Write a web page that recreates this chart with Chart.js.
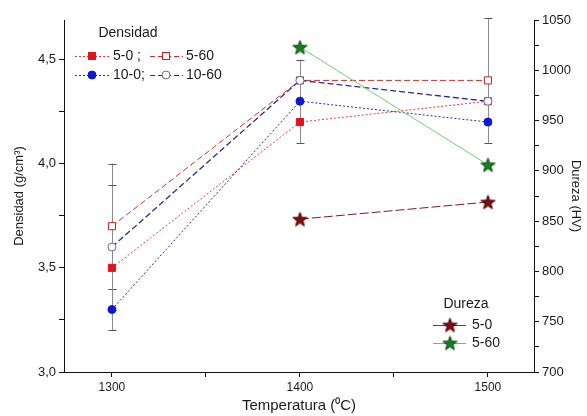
<!DOCTYPE html>
<html><head><meta charset="utf-8">
<script src="https://cdn.jsdelivr.net/npm/chart.js@4"></script>
<style>html,body{margin:0;padding:0;background:#fff}#wrap{width:587px;height:416px}</style>
</head><body><div id="wrap"><canvas id="c" width="587" height="416"></canvas></div>
<script>
// ---- data ----
const temperatures = [1300, 1400, 1500];
const dens_5_0 = [3.5, 4.2, 4.3];
const dens_5_60 = [3.7, 4.4, 4.4];
const dens_10_0 = [3.3, 4.3, 4.2];
const dens_10_60 = [3.6, 4.4, 4.3];
const err_5_0 = [0, 0.1, 0];
const err_5_60 = [0.3, 0.1, 0.3];
const err_10_0 = [0.1, 0, 0];
const err_10_60 = [0.3, 0, 0];
const durezaTemps = [1400, 1500];
const dur_5_0 = [852, 869];
const dur_5_60 = [1023, 906];
const xTicks = [1300, 1350, 1400, 1450, 1500];
const xLabels = [1300, 1400, 1500];
const yTicks = [3.0, 3.25, 3.5, 3.75, 4.0, 4.25, 4.5];
const yLabels = [3.0, 3.5, 4.0, 4.5];
const y2Ticks = [700, 725, 750, 775, 800, 825, 850, 875, 900, 925, 950, 975, 1000, 1025, 1050];
const y2Labels = [700, 750, 800, 850, 900, 950, 1000, 1050];

const FONT = "'Liberation Sans', Arial, sans-serif";
const TXT = '#1a1a1a';

function makeStar(fill, stroke, r) {
  const s = Math.ceil(r * 2 + 4);
  const cv = document.createElement('canvas');
  cv.width = s; cv.height = s;
  const g = cv.getContext('2d');
  const cx = s / 2, cy = s / 2 + 0.7;
  g.beginPath();
  for (let i = 0; i < 10; i++) {
    const rr = i % 2 === 0 ? r : r * 0.42;
    const a = -Math.PI / 2 + i * Math.PI / 5;
    const px = cx + rr * Math.cos(a), py = cy + rr * Math.sin(a);
    i === 0 ? g.moveTo(px, py) : g.lineTo(px, py);
  }
  g.closePath();
  g.fillStyle = fill; g.fill();
  g.lineWidth = 1; g.strokeStyle = stroke; g.stroke();
  return cv;
}
const starRed = makeStar('#7d0d12', '#4a0508', 7.5);
const starGreen = makeStar('#12801c', '#0a4a10', 7.5);

const pts = (xs, ys) => xs.map((x, i) => ({x: x, y: ys[i]}));

const datasets = [
  {label: '5-0', data: pts(temperatures, dens_5_0), yAxisID: 'y', err: err_5_0, order: 5,
   borderColor: '#e03a3a', borderWidth: 1, borderDash: [2, 2],
   pointStyle: 'rect', pointRadius: 5, backgroundColor: '#e8101a', pointBorderColor: '#e8101a', pointBorderWidth: 1},
  {label: '5-60', data: pts(temperatures, dens_5_60), yAxisID: 'y', err: err_5_60, order: 4,
   borderColor: '#c83030', borderWidth: 1, borderDash: [6, 3],
   pointStyle: 'rect', pointRadius: 5, backgroundColor: '#ffffff', pointBorderColor: '#c02020', pointBorderWidth: 1},
  {label: '10-0', data: pts(temperatures, dens_10_0), yAxisID: 'y', err: err_10_0, order: 3,
   borderColor: '#2a2aa8', borderWidth: 1, borderDash: [2, 2],
   pointStyle: 'circle', pointRadius: 4, backgroundColor: '#0a18d8', pointBorderColor: '#0a18d8', pointBorderWidth: 1},
  {label: '10-60', data: pts(temperatures, dens_10_60), yAxisID: 'y', err: err_10_60, order: 2,
   borderColor: '#2a2a90', borderWidth: 1.3, borderDash: [6, 3],
   pointStyle: 'circle', pointRadius: 4, backgroundColor: '#ffffff', pointBorderColor: '#6a6a9a', pointBorderWidth: 1},
  {label: 'Dureza 5-0', data: pts(durezaTemps, dur_5_0), yAxisID: 'y2', order: 1,
   borderColor: '#7a1a28', borderWidth: 1, borderDash: [9, 3],
   pointStyle: starRed, pointRadius: 8},
  {label: 'Dureza 5-60', data: pts(durezaTemps, dur_5_60), yAxisID: 'y2', order: 0,
   borderColor: '#6cd06c', borderWidth: 1,
   pointStyle: starGreen, pointRadius: 8}
];

const errorBars = {
  id: 'errorBars',
  beforeDatasetsDraw(chart) {
    const ctx = chart.ctx, xs = chart.scales.x, ys = chart.scales.y;
    ctx.save();
    ctx.lineWidth = 1;
    chart.data.datasets.forEach(ds => {
      if (!ds.err) return;
      ds.data.forEach((p, i) => {
        const e = ds.err[i];
        if (!e) return;
        const x = Math.round(xs.getPixelForValue(p.x)) + 0.5;
        const y1 = ys.getPixelForValue(p.y - e), y2 = ys.getPixelForValue(p.y + e);
        ctx.strokeStyle = '#8c8c8c';
        ctx.beginPath(); ctx.moveTo(x, y1); ctx.lineTo(x, y2); ctx.stroke();
        ctx.strokeStyle = '#555';
        [y1, y2].forEach(yy => {
          const r = Math.round(yy) + 0.5;
          ctx.beginPath(); ctx.moveTo(x - 4, r); ctx.lineTo(x + 4, r); ctx.stroke();
        });
      });
    });
    ctx.restore();
  }
};

function sampleLine(ctx, x1, x2, y, color, dash, width) {
  ctx.save();
  ctx.strokeStyle = color; ctx.lineWidth = width || 1; ctx.setLineDash(dash || []);
  ctx.beginPath(); ctx.moveTo(x1, y + 0.5); ctx.lineTo(x2, y + 0.5); ctx.stroke();
  ctx.restore();
}
function sq(ctx, x, y, fill, stroke) {
  ctx.fillStyle = fill; ctx.strokeStyle = stroke; ctx.lineWidth = 1;
  ctx.fillRect(x - 3.5, y - 3.5, 7, 7); ctx.strokeRect(x - 3.5, y - 3.5, 7, 7);
}
function circ(ctx, x, y, fill, stroke) {
  ctx.fillStyle = fill; ctx.strokeStyle = stroke; ctx.lineWidth = 1;
  ctx.beginPath(); ctx.arc(x, y, 4, 0, Math.PI * 2); ctx.fill(); ctx.stroke();
}

const legends = {
  id: 'legends',
  afterDraw(chart) {
    const ctx = chart.ctx;
    ctx.save();
    ctx.fillStyle = TXT;
    ctx.textBaseline = 'middle';
    ctx.font = '14px ' + FONT;
    ctx.textAlign = 'center';
    ctx.fillText('Densidad', 128, 33);
    ctx.textAlign = 'left';
    // row 1
    sampleLine(ctx, 75, 110, 56, '#e03a3a', [2, 2]);
    sq(ctx, 92, 56, '#e8101a', '#e8101a');
    ctx.fillStyle = TXT; ctx.fillText('5-0 ;', 113, 56);
    sampleLine(ctx, 150, 183, 56, '#c83030', [5, 3]);
    sq(ctx, 166, 56, '#ffffff', '#c02020');
    ctx.fillStyle = TXT; ctx.fillText('5-60', 186, 56);
    // row 2
    sampleLine(ctx, 75, 110, 75, '#2a2aa8', [2, 2]);
    circ(ctx, 92, 75, '#0a18d8', '#0a18d8');
    ctx.fillStyle = TXT; ctx.fillText('10-0;', 113, 75);
    sampleLine(ctx, 150, 183, 75, '#2a2a90', [5, 3]);
    circ(ctx, 166, 75, '#ffffff', '#6a6a9a');
    ctx.fillStyle = TXT; ctx.fillText('10-60', 186, 75);
    // Dureza legend
    ctx.textAlign = 'center';
    ctx.fillText('Dureza', 466, 304);
    ctx.textAlign = 'left';
    sampleLine(ctx, 433, 466, 325, '#8a2a3a', []);
    ctx.drawImage(starRed, 450 - starRed.width / 2, 325 - starRed.height / 2);
    ctx.fillStyle = TXT; ctx.fillText('5-0', 472, 325);
    sampleLine(ctx, 433, 466, 343, '#5cc85c', []);
    ctx.drawImage(starGreen, 450 - starGreen.width / 2, 343 - starGreen.height / 2);
    ctx.fillStyle = TXT; ctx.fillText('5-60', 472, 343);
    ctx.restore();
  }
};

const setTicks = (vals) => (scale) => { scale.ticks = vals.map(v => ({value: v})); };

new Chart(document.getElementById('c'), {
  type: 'line',
  data: {datasets: datasets},
  options: {
    responsive: false,
    animation: false,
    devicePixelRatio: 1,
    layout: {padding: {top: 20, left: 0, right: 0, bottom: 0}},
    plugins: {legend: {display: false}, tooltip: {enabled: false}},
    scales: {
      x: {
        type: 'linear', min: 1274.5, max: 1524.5,
        afterBuildTicks: setTicks(xTicks),
        afterFit: (s) => { s.height = 44; },
        grid: {drawOnChartArea: false, drawTicks: true, tickLength: 5, tickColor: '#111'},
        border: {display: true, color: '#111', width: 1},
        ticks: {color: TXT, font: {family: FONT, size: 12}, padding: 3, maxRotation: 0, autoSkip: false,
          callback: (v) => xLabels.includes(v) ? String(v) : ''},
        title: {display: true, text: 'Temperatura (⁰C)', color: TXT, font: {family: FONT, size: 15}, padding: {top: 0, bottom: 1}}
      },
      y: {
        type: 'linear', position: 'left', min: 3.0, max: 4.69,
        afterBuildTicks: setTicks(yTicks),
        afterFit: (s) => { s.width = 64; },
        grid: {drawOnChartArea: false, drawTicks: true, tickLength: 5, tickColor: '#111'},
        border: {display: true, color: '#111', width: 1},
        ticks: {color: TXT, font: {family: FONT, size: 13}, padding: 3, autoSkip: false,
          callback: (v) => yLabels.some(l => Math.abs(l - v) < 1e-6) ? v.toFixed(1).replace('.', ',') : ''},
        title: {display: true, text: 'Densidad (g/cm³)', color: TXT, font: {family: FONT, size: 13}, padding: {top: 12, bottom: 0}}
      },
      y2: {
        type: 'linear', position: 'right', min: 700, max: 1050,
        afterBuildTicks: setTicks(y2Ticks),
        afterFit: (s) => { s.width = 53; },
        grid: {drawOnChartArea: false, drawTicks: true, tickLength: 5, tickColor: '#111'},
        border: {display: true, color: '#111', width: 1},
        ticks: {color: TXT, font: {family: FONT, size: 13}, padding: 3, autoSkip: false,
          callback: (v) => y2Labels.includes(v) ? String(v) : ''},
        title: {display: true, text: 'Dureza (HV)', color: TXT, font: {family: FONT, size: 13}, padding: {top: 4, bottom: 0}}
      }
    }
  },
  plugins: [errorBars, legends]
});
</script>
</body></html>
